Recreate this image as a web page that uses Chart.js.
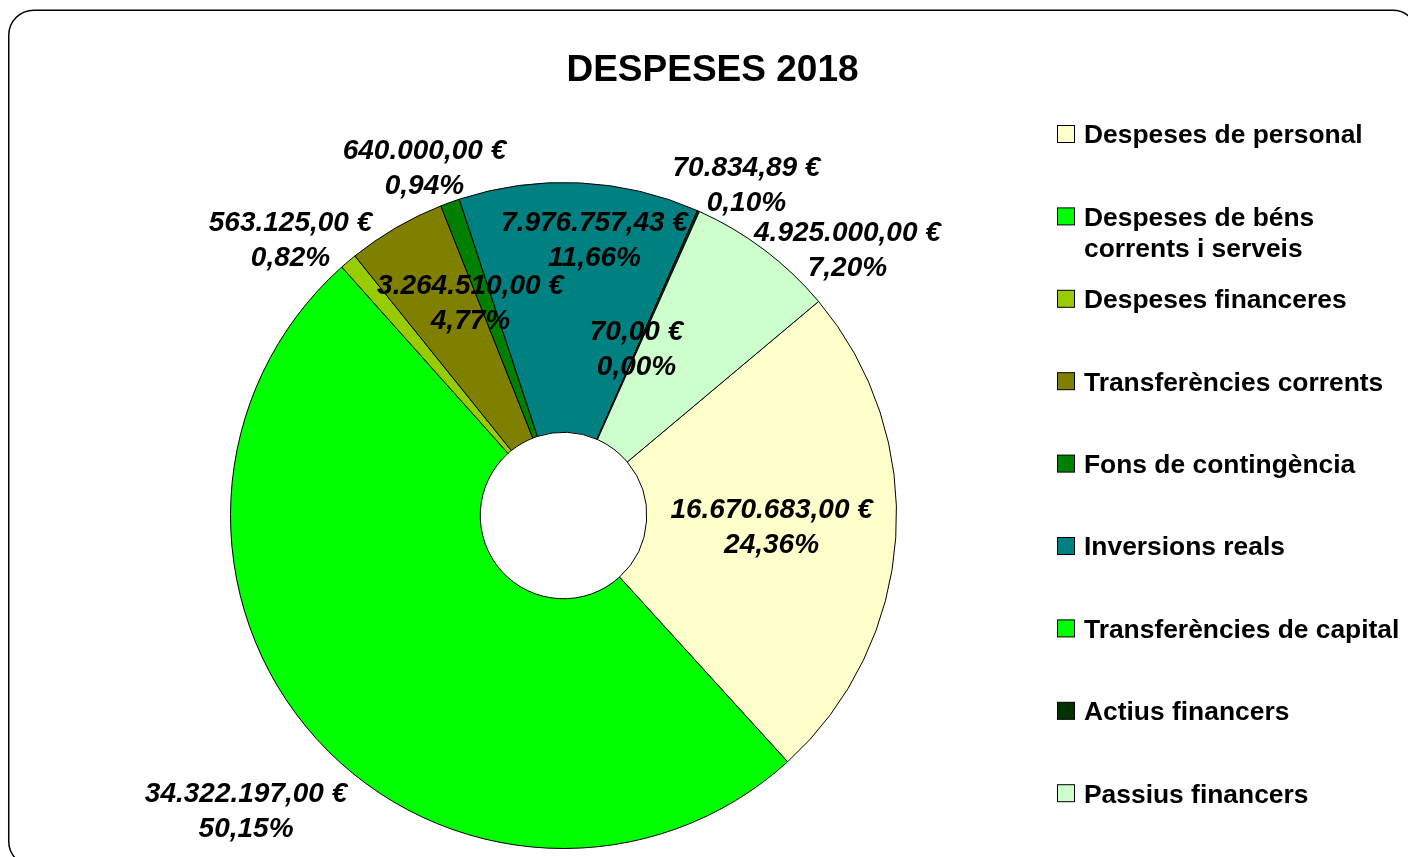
<!DOCTYPE html>
<html><head><meta charset="utf-8">
<script src="https://cdn.jsdelivr.net/npm/chart.js@4.4.1/dist/chart.umd.min.js"></script>
<style>html,body{margin:0;padding:0;background:#fff;overflow:hidden}#wrap{width:1408px;height:857px;position:relative}</style>
</head><body><div id="wrap"><canvas id="c" width="1408" height="857"></canvas></div>
<script>
const chartTitle = 'DESPESES 2018';
const categories = ['Despeses de personal', 'Despeses de béns corrents i serveis', 'Despeses financeres', 'Transferències corrents', 'Fons de contingència', 'Inversions reals', 'Transferències de capital', 'Actius financers', 'Passius financers'];
const legendLines = [['Despeses de personal'], ['Despeses de béns', 'corrents i serveis'], ['Despeses financeres'], ['Transferències corrents'], ['Fons de contingència'], ['Inversions reals'], ['Transferències de capital'], ['Actius financers'], ['Passius financers']];
const values = [16670683.00, 34322197.00, 563125.00, 3264510.00, 640000.00, 7976757.43, 70.00, 70834.89, 4925000.00];
const colors = ['#FFFFCC', '#00FF00', '#99CC00', '#808000', '#008000', '#008080', '#00FF00', '#003300', '#CCFFCC'];
// label placement relative to each slice: angle offset (deg) from slice middle, radius factor
const labelAngleOffset = [-0.5, -1.0, -4.5, 6.5, -1.9, 3.7, 0, 5.1, 9.95];
const labelRadius = [0.626, 1.304, 1.164, 0.695, 1.123, 0.831, 0.545, 1.133, 1.166];

const total = values.reduce((a, b) => a + b, 0);
function fmtNum(v) {
  const s = v.toFixed(2);
  let [i, d] = s.split('.');
  i = i.replace(/\B(?=(\d{3})+(?!\d))/g, '.');
  return i + ',' + d;
}
function fmtPct(v) { return (v / total * 100).toFixed(2).replace('.', ',') + '%'; }

const FONT = '"Liberation Sans", Arial, sans-serif';

const decor = {
  id: 'decor',
  beforeDraw(chart) {
    const ctx = chart.ctx;
    ctx.save();
    ctx.fillStyle = '#fff';
    ctx.fillRect(0, 0, chart.width, chart.height);
    ctx.beginPath();
    ctx.roundRect(8.75, 10.25, 1409, 856, 25);
    ctx.lineWidth = 1.5;
    ctx.strokeStyle = '#000';
    ctx.stroke();
    ctx.restore();
  },
  afterDatasetsDraw(chart) {
    const ctx = chart.ctx;
    const meta = chart.getDatasetMeta(0);
    ctx.save();
    ctx.font = 'italic bold 28px ' + FONT;
    ctx.fillStyle = '#000';
    ctx.textAlign = 'center';
    ctx.textBaseline = 'middle';
    meta.data.forEach((el, i) => {
      const a = (el.startAngle + el.endAngle) / 2 + labelAngleOffset[i] * Math.PI / 180;
      const r = el.outerRadius * labelRadius[i];
      const cx = el.x + Math.cos(a) * r;
      const cy = el.y + Math.sin(a) * r;
      ctx.fillText(fmtNum(values[i]) + ' €', cx, cy - 17.5);
      ctx.fillText(fmtPct(values[i]), cx, cy + 17.5);
    });
    ctx.restore();
  },
  afterDraw(chart) {
    const ctx = chart.ctx;
    ctx.save();
    ctx.fillStyle = '#000';
    ctx.font = 'bold 37px ' + FONT;
    ctx.textAlign = 'center';
    ctx.textBaseline = 'alphabetic';
    ctx.fillText(chartTitle, 712.5, 81);
    // legend
    ctx.font = 'bold 26.4px ' + FONT;
    ctx.textAlign = 'left';
    const x0 = 1057.5, y0 = 134, step = 82.4;
    legendLines.forEach((lines, i) => {
      const yc = y0 + i * step;
      ctx.fillStyle = colors[i];
      ctx.fillRect(x0, yc - 8.5, 17, 17);
      ctx.lineWidth = 1;
      ctx.strokeStyle = '#000';
      ctx.strokeRect(x0, yc - 8.5, 17, 17);
      ctx.fillStyle = '#000';
      lines.forEach((t, j) => ctx.fillText(t, 1084, yc + 9.3 + j * 31));
    });
    ctx.restore();
  }
};

new Chart(document.getElementById('c'), {
  type: 'doughnut',
  data: {
    labels: categories,
    datasets: [{
      data: values,
      backgroundColor: colors,
      borderColor: '#000',
      borderWidth: 1,
      hoverBorderWidth: 1,
      hoverOffset: 0
    }]
  },
  options: {
    responsive: false,
    animation: false,
    rotation: 50,
    cutout: '25%',
    layout: { padding: { left: 230, right: 511, top: 182, bottom: 8 } },
    plugins: { legend: { display: false }, tooltip: { enabled: false }, title: { display: false } }
  },
  plugins: [decor]
});
</script>
</body></html>
